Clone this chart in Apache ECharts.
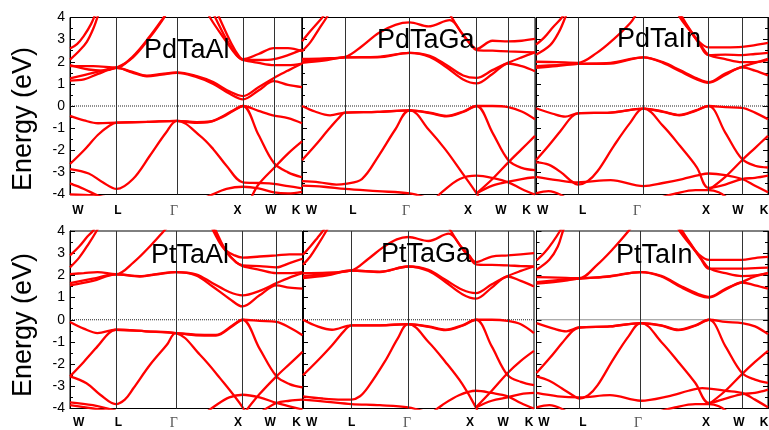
<!DOCTYPE html>
<html>
<head>
<meta charset="utf-8">
<script src="https://cdn.jsdelivr.net/npm/echarts@6/dist/echarts.min.js"></script>
<style>
html,body{margin:0;padding:0;background:#fff;}
#chart{width:769px;height:430px;}
</style>
</head>
<body>
<div id="chart"></div>
<script>
// High-symmetry path labels and energy ticks
const symLabels = ['W', 'L', 'Γ', 'X', 'W', 'K'];
const energyMin = -4, energyMax = 4, energyStep = 1;
const compounds = ['PdTaAl', 'PdTaGa', 'PdTaIn', 'PtTaAl', 'PtTaGa', 'PtTaIn'];

// Positions of W, L, Γ, X, W, K along the k-path (2π/a) for each panel
const kPdTaAl = [0, 0.690, 1.580, 2.555, 3.013, 3.427];
const kPdTaGa = [0, 0.634, 1.583, 2.567, 3.035, 3.427];
const kPdTaIn = [0, 0.617, 1.587, 2.549, 3.043, 3.427];
const kPtTaAl = [0, 0.675, 1.561, 2.545, 3.043, 3.427];
const kPtTaGa = [0, 0.719, 1.560, 2.565, 3.036, 3.427];
const kPtTaIn = [0, 0.631, 1.545, 2.553, 3.042, 3.427];

// Where the path labels sit along each axis
const labPdTaAl = [0.118, 0.709, 1.536, 2.474, 2.969, 3.338];
const labPdTaGa = [0.140, 0.750, 1.530, 2.441, 2.927, 3.305];
const labPdTaIn = [0.099, 0.690, 1.492, 2.511, 2.984, 3.368];
const labPtTaAl = [0.128, 0.712, 1.529, 2.476, 2.952, 3.341];
const labPtTaGa = [0.129, 0.722, 1.543, 2.477, 2.971, 3.353];
const labPtTaIn = [0.111, 0.688, 1.503, 2.509, 2.998, 3.368];

// Bands: points [pathPosition, energy in eV]; pathPosition 0=W,1=L,2=Γ,3=X,4=W,5=K
const bandsPdTaAl = [
  [[0,-0.45],[0.3,-0.65],[0.6,-0.78],[1,-0.75],[1.5,-0.72],[2,-0.67],[2.3,-0.73],[2.5,-0.7],[2.7,-0.45],[2.85,-0.2],[3,0],[3.5,-0.22],[4,-0.43],[4.5,-0.55],[5,-0.78]],
  [[0,-2.62],[0.3,-2.0],[0.6,-1.3],[0.85,-0.88],[1,-0.75],[1.5,-0.72],[2,-0.67],[2.35,-1.35],[2.55,-1.95],[2.75,-2.7],[3,-3.45],[3.5,-3.48],[4,-3.52],[4.5,-3.62],[5,-3.72]],
  [[0,-2.85],[0.4,-3.05],[0.7,-3.45],[1,-3.75],[1.27,-3.3],[1.55,-2.25],[1.82,-1.2],[2,-0.67],[2.3,-0.76],[2.5,-0.72],[2.7,-0.48],[2.85,-0.22],[3,0],[3.5,-1.3],[4,-2.58],[4.5,-3.0],[5,-3.22]],
  [[0,-3.5],[0.3,-3.75],[0.6,-4.05],[1,-4.3]],
  [[0,-4.0],[0.5,-4.05],[1,-4.2]],
  [[2.3,-4.3],[2.5,-4.05],[2.75,-3.75],[3,-3.65],[3.5,-3.72],[4,-3.9],[4.5,-3.95],[5,-3.88]],
  [[3.25,-4.2],[3.5,-3.55],[4,-2.8],[4.5,-2.15],[5,-1.6]],
  [[0,1.15],[0.3,1.2],[0.6,1.45],[1,1.72],[1.25,1.52],[1.5,1.34],[1.75,1.42],[2,1.5],[2.3,1.3],[2.55,1.0],[2.8,0.55],[3,0.3],[3.5,0.7],[4,1.12],[4.5,0.95],[5,0.85]],
  [[0,1.25],[0.3,1.4],[0.6,1.55],[1,1.72],[1.25,1.55],[1.5,1.37],[1.75,1.45],[2,1.52],[2.3,1.35],[2.55,1.08],[2.8,0.65],[3,0.45],[3.5,0.85],[4,1.27],[4.5,1.6],[5,1.92]],
  [[0,1.8],[0.5,1.8],[1,1.74],[1.27,2.25],[1.55,3.15],[1.77,3.97],[1.85,4.3]],
  [[0,1.85],[0.4,1.65],[0.7,1.6],[1,1.74],[1.27,2.2],[1.55,3.1],[1.77,3.93],[1.85,4.3]],
  [[0,2.1],[0.2,2.5],[0.36,2.9],[0.5,3.5],[0.6,4.1]],
  [[0,2.6],[0.15,2.8],[0.29,3.15],[0.45,3.7],[0.55,4.2]],
  [[2.45,4.4],[2.5,4.0],[2.75,2.9],[2.9,2.3],[3,2.12],[3.5,2.35],[4,2.62],[4.5,2.62],[5,2.48]],
  [[2.52,4.4],[2.58,4.0],[2.78,2.85],[2.92,2.25],[3,2.08],[3.5,2.08],[4,2.12],[4.5,2.3],[5,2.55]],
  [[2.58,4.4],[2.64,4.0],[2.82,2.85],[2.94,2.25],[3,2.1],[3.5,1.95],[4,1.85],[4.5,1.85],[5,1.92]]
];

const bandsPdTaGa = [
  [[0,0],[0.3,-0.25],[0.65,-0.42],[1,-0.3],[1.5,-0.27],[2,-0.2],[2.3,-0.3],[2.55,-0.45],[2.8,-0.25],[3,0],[3.5,0],[4,-0.05],[4.5,-0.25],[5,-0.6]],
  [[0,-2.45],[0.3,-1.8],[0.6,-1.1],[0.85,-0.55],[1,-0.3],[1.5,-0.27],[2,-0.2],[2.28,-1.05],[2.53,-1.95],[2.78,-3.0],[3,-3.95],[3.2,-4.5]],
  [[0,-3.4],[0.4,-3.45],[0.8,-3.55],[1,-3.52],[1.26,-3.3],[1.52,-2.25],[1.78,-1.05],[2,-0.2],[2.3,-0.32],[2.55,-0.47],[2.8,-0.27],[3,0],[3.5,-1.2],[4,-2.45],[4.5,-2.8],[5,-2.9]],
  [[0,-3.6],[0.5,-3.65],[1,-3.75],[1.5,-3.85],[2,-3.95],[2.3,-4.2]],
  [[3,-3.95],[3.5,-3.3],[4,-2.55],[4.5,-1.95],[5,-1.35]],
  [[2.35,-4.3],[2.5,-3.85],[2.75,-3.3],[3,-3.15],[3.5,-3.25],[4,-3.45],[4.5,-3.75],[5,-4.0]],
  [[3,-3.95],[3.5,-3.6],[4,-3.42],[4.5,-3.3],[5,-3.22]],
  [[0,1.95],[0.5,2.05],[1,2.2],[1.5,2.2],[2,2.4],[2.3,2.22],[2.55,1.75],[2.8,1.2],[3,1.02],[3.5,1.45],[4,1.92],[4.5,1.8],[5,1.57]],
  [[0,2.02],[0.5,2.1],[1,2.2],[1.5,2.22],[2,2.4],[2.3,2.27],[2.55,1.85],[2.8,1.38],[3,1.27],[3.5,1.62],[4,1.96],[4.5,2.2],[5,2.42]],
  [[0,2.13],[0.5,2.15],[1,2.22],[1.26,2.7],[1.52,3.3],[1.78,3.67],[2,3.78],[2.28,3.6],[2.6,3.88],[2.78,3.3],[2.9,2.85],[3,2.58],[3.5,2.95],[4,2.92],[4.5,2.95],[5,3.03]],
  [[2.55,4.4],[2.65,3.9],[2.8,3.2],[2.92,2.75],[3,2.53],[3.5,2.5],[4,2.47],[4.5,2.45],[5,2.42]],
  [[0,2.47],[0.2,2.9],[0.4,3.5],[0.57,4.0],[0.65,4.3]],
  [[0,2.92],[0.2,3.4],[0.38,3.8],[0.49,4.05],[0.55,4.3]]
];

const bandsPdTaIn = [
  [[0,-0.1],[0.4,-0.35],[0.7,-0.48],[1,-0.33],[1.5,-0.3],[2,-0.12],[2.3,-0.25],[2.55,-0.4],[2.8,-0.2],[3,0],[3.5,-0.05],[4,-0.08],[4.5,-0.3],[5,-0.6]],
  [[0,-2.45],[0.3,-1.8],[0.6,-1.1],[0.85,-0.5],[1,-0.33],[1.5,-0.3],[2,-0.12],[2.3,-0.9],[2.56,-1.8],[2.82,-2.77],[3,-3.7],[3.5,-3.55],[4,-3.3],[4.5,-3.25],[5,-3.15]],
  [[0,-2.55],[0.3,-2.65],[0.6,-3.0],[0.85,-3.4],[1,-3.55],[1.15,-3.4],[1.3,-2.95],[1.55,-1.8],[1.8,-0.75],[2,-0.12],[2.3,-0.27],[2.55,-0.42],[2.8,-0.22],[3,0],[3.5,-1.2],[4,-2.4],[4.5,-2.7],[5,-2.78]],
  [[0,-3.2],[0.5,-3.35],[1,-3.45],[1.5,-3.35],[2,-3.62],[2.3,-3.48],[2.6,-3.3],[2.85,-3.12],[3,-3.05],[3.5,-3.12],[4,-3.3],[4.5,-3.6],[5,-3.9]],
  [[3,-3.8],[3.5,-3.2],[4,-2.45],[4.5,-1.9],[5,-1.35]],
  [[0,-3.95],[0.3,-3.85],[0.6,-4.02],[0.8,-4.3]],
  [[2.2,-4.2],[2.5,-3.95],[2.8,-3.8],[3,-3.8],[3.3,-3.9],[3.6,-4.2]],
  [[0,1.72],[0.5,1.8],[1,1.9],[1.5,1.92],[2,2.2],[2.3,1.95],[2.56,1.57],[2.82,1.2],[3,1.05],[3.5,1.4],[4,1.75],[4.5,1.6],[5,1.38]],
  [[0,1.8],[0.5,1.85],[1,1.9],[1.5,1.95],[2,2.2],[2.3,1.98],[2.56,1.62],[2.82,1.25],[3,1.08],[3.5,1.47],[4,1.77],[4.5,1.95],[5,2.13]],
  [[0,2.0],[0.5,1.98],[1,1.95],[1.29,2.4],[1.54,3.0],[1.8,3.75],[1.88,4.1]],
  [[0,2.32],[0.34,2.75],[0.55,3.35],[0.7,4.0],[0.78,4.4]],
  [[0,2.77],[0.2,3.1],[0.4,3.55],[0.62,4.0],[0.7,4.3]],
  [[2.5,4.4],[2.56,4.0],[2.7,3.45],[2.82,3.0],[3,2.65],[3.5,2.65],[4,2.67],[4.5,2.75],[5,2.85]],
  [[2.52,4.4],[2.58,4.0],[2.72,3.4],[2.85,2.85],[3,2.3],[3.5,2.32],[4,2.3],[4.5,2.35],[5,2.4]],
  [[2.55,4.4],[2.6,4.0],[2.75,3.3],[2.88,2.75],[3,2.32],[3.5,2.12],[4,1.98],[4.5,1.98],[5,2.08]]
];

const bandsPtTaAl = [
  [[0,-0.1],[0.3,-0.4],[0.6,-0.6],[1,-0.45],[1.5,-0.52],[2,-0.6],[2.3,-0.67],[2.6,-0.68],[2.85,-0.25],[3,0],[3.5,-0.05],[4,-0.1],[4.5,-0.35],[5,-0.7]],
  [[0,-2.55],[0.3,-1.9],[0.6,-1.2],[0.85,-0.6],[1,-0.45],[1.5,-0.52],[2,-0.6],[2.36,-1.58],[2.66,-2.63],[3,-3.95],[3.15,-4.5]],
  [[0,-2.55],[0.36,-2.86],[0.66,-3.38],[1,-3.8],[1.15,-3.6],[1.29,-3.1],[1.57,-2.03],[1.85,-1.13],[2,-0.6],[2.3,-0.7],[2.6,-0.71],[2.85,-0.28],[3,0],[3.5,-1.3],[4,-2.55],[4.5,-2.9],[5,-3.05]],
  [[2.4,-4.3],[2.6,-3.85],[2.8,-3.5],[3,-3.38],[3.5,-3.5],[4,-3.75],[4.5,-3.9],[5,-4.05]],
  [[3.1,-4.1],[3.5,-3.35],[4,-2.55],[4.5,-2.0],[5,-1.45]],
  [[0,-3.72],[0.5,-3.85],[1,-4.1]],
  [[0,-3.85],[0.5,-4.0],[1,-4.15]],
  [[3.5,-4.2],[4,-3.75],[4.5,-3.65],[5,-3.6]],
  [[0,1.55],[0.5,1.75],[1,2.05],[1.4,1.95],[1.7,2.05],[2,2.15],[2.3,2.0],[2.55,1.5],[2.8,0.95],[3,0.6],[3.5,1.1],[4,1.55],[4.5,1.45],[5,1.4]],
  [[0,1.65],[0.5,1.85],[1,2.05],[1.4,1.97],[1.7,2.07],[2,2.15],[2.3,2.05],[2.55,1.65],[2.8,1.25],[3,1.1],[3.5,1.3],[4,1.65],[4.5,1.9],[5,2.1]],
  [[0,2.06],[0.3,2.1],[0.6,2.15],[1,2.05],[1.3,2.6],[1.6,3.4],[1.8,4.0],[1.9,4.3]],
  [[0,2.36],[0.2,2.8],[0.4,3.4],[0.58,4.0],[0.65,4.3]],
  [[0,2.9],[0.2,3.3],[0.38,3.75],[0.5,4.0],[0.58,4.3]],
  [[2.5,4.4],[2.56,4.0],[2.72,3.2],[2.88,2.9],[3,2.8],[3.5,2.85],[4,2.9],[4.5,2.95],[5,2.95]],
  [[2.52,4.4],[2.58,4.0],[2.75,3.1],[2.9,2.6],[3,2.45],[3.5,2.42],[4,2.36],[4.5,2.55],[5,2.75]],
  [[2.55,4.4],[2.6,4.0],[2.77,3.0],[2.92,2.55],[3,2.42],[3.5,2.25],[4,2.1],[4.5,2.1],[5,2.15]]
];

const bandsPtTaGa = [
  [[0,0],[0.3,-0.3],[0.6,-0.45],[1,-0.25],[1.5,-0.25],[2,-0.2],[2.3,-0.3],[2.55,-0.45],[2.8,-0.25],[3,0],[3.5,0],[4,-0.05],[4.5,-0.2],[5,-0.6]],
  [[0,-2.5],[0.3,-1.85],[0.6,-1.15],[0.85,-0.5],[1,-0.25],[1.5,-0.25],[2,-0.2],[2.3,-1.0],[2.55,-1.9],[2.8,-2.9],[3,-3.95],[3.15,-4.5]],
  [[0,-3.45],[0.4,-3.55],[0.8,-3.6],[1,-3.6],[1.15,-3.45],[1.29,-3.05],[1.59,-1.88],[1.82,-0.83],[2,-0.2],[2.3,-0.32],[2.55,-0.47],[2.8,-0.27],[3,0],[3.5,-1.2],[4,-2.5],[4.5,-2.8],[5,-2.95]],
  [[0,-3.6],[0.5,-3.7],[1,-3.8],[1.5,-3.85],[2,-3.95],[2.3,-4.2]],
  [[2.35,-4.2],[2.5,-3.85],[2.75,-3.4],[3,-3.2],[3.5,-3.3],[4,-3.45],[4.5,-3.75],[5,-4.0]],
  [[3,-3.95],[3.5,-3.2],[4,-2.4],[4.5,-1.85],[5,-1.4]],
  [[3,-3.95],[3.5,-3.65],[4,-3.5],[4.5,-3.35],[5,-3.3]],
  [[0,1.88],[0.5,2.0],[1,2.22],[1.5,2.15],[2,2.4],[2.3,2.2],[2.55,1.7],[2.8,1.15],[3,0.95],[3.5,1.45],[4,1.95],[4.5,1.75],[5,1.5]],
  [[0,1.98],[0.5,2.05],[1,2.22],[1.5,2.17],[2,2.4],[2.3,2.25],[2.55,1.8],[2.8,1.35],[3,1.2],[3.5,1.6],[4,1.97],[4.5,2.2],[5,2.4]],
  [[0,2.1],[0.5,2.12],[1,2.22],[1.3,2.75],[1.55,3.25],[1.8,3.62],[2,3.73],[2.3,3.55],[2.6,3.88],[2.78,3.3],[2.9,2.9],[3,2.6],[3.5,2.85],[4,2.9],[4.5,2.95],[5,3.0]],
  [[2.55,4.4],[2.65,3.9],[2.8,3.2],[2.92,2.75],[3,2.5],[3.5,2.47],[4,2.45],[4.5,2.42],[5,2.4]],
  [[0,2.48],[0.15,2.85],[0.3,3.35],[0.48,4.0],[0.55,4.3]],
  [[0,2.93],[0.15,3.3],[0.3,3.7],[0.41,4.0],[0.5,4.3]]
];

const bandsPtTaIn = [
  [[0,-0.15],[0.4,-0.4],[0.7,-0.52],[1,-0.35],[1.5,-0.3],[2,-0.15],[2.3,-0.25],[2.55,-0.45],[2.8,-0.25],[3,0],[3.5,-0.1],[4,-0.15],[4.5,-0.3],[5,-0.65]],
  [[0,-2.4],[0.3,-1.75],[0.6,-1.05],[0.85,-0.5],[1,-0.35],[1.5,-0.3],[2,-0.15],[2.3,-1.0],[2.55,-1.9],[2.8,-2.85],[3,-3.75],[3.5,-3.55],[4,-3.35],[4.5,-3.3],[5,-3.15]],
  [[0,-2.55],[0.3,-2.75],[0.6,-3.1],[0.85,-3.4],[1,-3.55],[1.15,-3.4],[1.3,-2.95],[1.55,-1.8],[1.8,-0.75],[2,-0.15],[2.3,-0.27],[2.55,-0.47],[2.8,-0.27],[3,0],[3.5,-1.2],[4,-2.4],[4.5,-2.7],[5,-2.85]],
  [[0,-3.3],[0.5,-3.45],[1,-3.5],[1.5,-3.4],[2,-3.65],[2.4,-3.45],[2.7,-3.2],[2.9,-3.08],[3,-3.1],[3.5,-3.2],[4,-3.3],[4.5,-3.6],[5,-3.95]],
  [[3,-3.8],[3.5,-3.2],[4,-2.45],[4.5,-1.9],[5,-1.4]],
  [[0,-3.95],[0.3,-3.85],[0.6,-4.02],[0.8,-4.3]],
  [[2.2,-4.2],[2.5,-3.95],[2.8,-3.8],[3,-3.8],[3.3,-3.9],[3.6,-4.2]],
  [[0,1.63],[0.5,1.72],[1,1.85],[1.5,1.95],[2,2.15],[2.3,1.95],[2.6,1.45],[2.85,1.1],[3,1.0],[3.5,1.35],[4,1.68],[4.5,1.55],[5,1.4]],
  [[0,1.7],[0.5,1.78],[1,1.85],[1.5,1.97],[2,2.15],[2.3,1.98],[2.6,1.5],[2.85,1.15],[3,1.03],[3.5,1.4],[4,1.7],[4.5,1.95],[5,2.1]],
  [[0,1.92],[0.5,1.9],[1,1.87],[1.3,2.5],[1.55,3.2],[1.8,4.0],[1.88,4.3]],
  [[0,2.25],[0.3,2.7],[0.5,3.3],[0.62,4.0],[0.7,4.4]],
  [[0,2.67],[0.2,3.05],[0.38,3.5],[0.55,4.0],[0.63,4.3]],
  [[2.5,4.4],[2.57,4.0],[2.72,3.4],[2.85,2.95],[3,2.7],[3.5,2.7],[4,2.7],[4.5,2.78],[5,2.83]],
  [[2.52,4.4],[2.59,4.0],[2.74,3.35],[2.88,2.75],[3,2.3],[3.5,2.3],[4,2.3],[4.5,2.33],[5,2.35]],
  [[2.55,4.4],[2.61,4.0],[2.76,3.3],[2.9,2.7],[3,2.32],[3.5,2.1],[4,1.97],[4.5,2.0],[5,2.1]]
];

const FONT = "'Liberation Sans', Arial, Helvetica, sans-serif";

const panels = [
  { k: kPdTaAl, lab: labPdTaAl, bands: bandsPdTaAl, grid: { left: 70,  top: 17.5, width: 232, height: 177 },   titleAt: [144, 50.5] },
  { k: kPdTaGa, lab: labPdTaGa, bands: bandsPdTaGa, grid: { left: 302, top: 17.5, width: 233, height: 177 },   titleAt: [377, 41] },
  { k: kPdTaIn, lab: labPdTaIn, bands: bandsPdTaIn, grid: { left: 536, top: 17.5, width: 232, height: 177 },   titleAt: [617, 39.5] },
  { k: kPtTaAl, lab: labPtTaAl, bands: bandsPtTaAl, grid: { left: 70,  top: 231, width: 232.5, height: 177.5 }, titleAt: [151, 255.3] },
  { k: kPtTaGa, lab: labPtTaGa, bands: bandsPtTaGa, grid: { left: 303, top: 231, width: 231, height: 177.5 },   titleAt: [381, 255] },
  { k: kPtTaIn, lab: labPtTaIn, bands: bandsPtTaIn, grid: { left: 536.5, top: 231, width: 231.5, height: 177.5 }, titleAt: [616, 256] }
];

// map a path position (segment index + fraction) onto the panel's k axis
function toK(kt, s) {
  const i = Math.max(0, Math.min(4, Math.floor(s)));
  return kt[i] + (s - i) * (kt[i + 1] - kt[i]);
}

const grids = [], xAxes = [], yAxes = [], series = [], graphics = [];

panels.forEach((p, idx) => {
  const kMax = p.k[p.k.length - 1];
  grids.push(Object.assign({ show: true, borderColor: '#000', borderWidth: 1, backgroundColor: 'transparent', outerBoundsMode: 'none', containLabel: false }, p.grid));

  xAxes.push({
    type: 'value', gridIndex: idx, min: 0, max: kMax,
    axisLine: { show: true, onZero: false, lineStyle: { color: '#000', width: 1 } },
    axisTick: { show: false },
    splitLine: { show: false },
    axisLabel: {
      customValues: p.lab,
      showMinLabel: true, showMaxLabel: true,
      margin: idx < 3 ? 10 : 8,
      color: '#000', fontFamily: FONT, fontSize: 12, fontWeight: 'bold',
      formatter: function (v) {
        let best = 0;
        p.lab.forEach((x, j) => { if (Math.abs(x - v) < Math.abs(p.lab[best] - v)) best = j; });
        const t = symLabels[best];
        return t === 'Γ' ? '{g|Γ}' : t;
      },
      rich: { g: { fontFamily: "'Liberation Serif', 'DejaVu Serif', serif", fontWeight: 'normal', fontSize: 14, color: '#555' } }
    }
  });

  const yBase = {
    type: 'value', gridIndex: idx, min: energyMin, max: energyMax, interval: energyStep,
    axisLine: { show: true, onZero: false, lineStyle: { color: '#000', width: 1 } },
    axisTick: { show: true, inside: true, length: 5, lineStyle: { color: '#000' } },
    minorTick: { show: true, splitNumber: 2, length: 3, lineStyle: { color: '#000' } },
    splitLine: { show: false }, minorSplitLine: { show: false }
  };
  yAxes.push(Object.assign({}, yBase, {
    position: 'left',
    axisLabel: { show: idx % 3 === 0, color: '#000', fontFamily: FONT, fontSize: 14, margin: 5 }
  }));
  const yIndex = yAxes.length - 1;
  if (idx % 3 === 2) {
    yAxes.push(Object.assign({}, yBase, { position: 'right', axisLabel: { show: false } }));
  }

  // Fermi level and high-symmetry lines
  series.push({
    type: 'line', xAxisIndex: idx, yAxisIndex: yIndex,
    data: [[0, 0], [kMax, 0]],
    symbol: 'none', silent: true, z: 2, animation: false,
    lineStyle: { color: '#222', width: 1, type: [1, 1] },
    markLine: {
      silent: true, symbol: ['none', 'none'], animation: false,
      label: { show: false },
      lineStyle: { color: '#333', width: 1, type: 'solid' },
      data: p.k.slice(1, 5).map(v => ({ xAxis: v }))
    }
  });

  p.bands.forEach(b => {
    series.push({
      type: 'line', xAxisIndex: idx, yAxisIndex: yIndex,
      data: b.map(([s, e]) => [toK(p.k, s), e]),
      smooth: 0.35, symbol: 'none', showSymbol: false, clip: true,
      silent: true, z: 3, animation: false,
      lineStyle: { color: '#ff0000', width: 2.3 }
    });
  });

  graphics.push({
    type: 'text', x: p.titleAt[0], y: p.titleAt[1], z: 100,
    style: { text: compounds[idx], fill: '#000', font: '27px ' + FONT, textAlign: 'left', textVerticalAlign: 'middle' }
  });
});

// Axis titles
graphics.push({ type: 'text', x: 24, y: 119, rotation: Math.PI / 2, z: 100,
  style: { text: 'Energy (eV)', fill: '#000', font: '27px ' + FONT, textAlign: 'center', textVerticalAlign: 'middle' } });
graphics.push({ type: 'text', x: 24, y: 325, rotation: Math.PI / 2, z: 100,
  style: { text: 'Energy (eV)', fill: '#000', font: '27px ' + FONT, textAlign: 'center', textVerticalAlign: 'middle' } });

const chart = echarts.init(document.getElementById('chart'), null, { renderer: 'canvas' });
chart.setOption({
  backgroundColor: '#fff',
  animation: false,
  grid: grids,
  xAxis: xAxes,
  yAxis: yAxes,
  series: series,
  graphic: graphics
});
</script>
</body>
</html>
